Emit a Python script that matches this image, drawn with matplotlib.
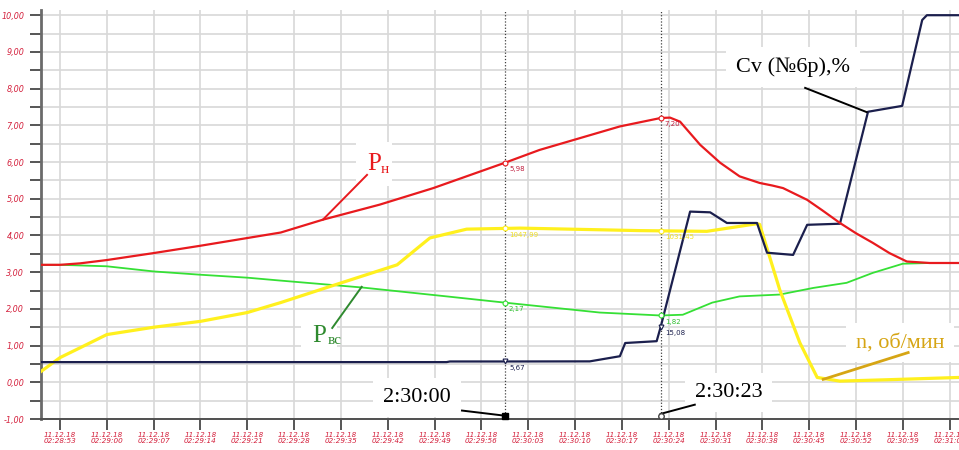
import numpy as np
import matplotlib
matplotlib.use("Agg")
from matplotlib import pyplot as plt
from matplotlib.ticker import MultipleLocator, FuncFormatter

# время, с от 02:28:53 (11.12.18)
t_pn = [-2.8, 0, 3, 7, 14, 21, 28, 33, 39.3, 47.8, 55.8, 66.5, 71.7, 77.7, 83.7, 89.8,
        91.2, 92.7, 95.7, 98.7, 101.6, 104.6, 106.5, 108.1, 111.7, 114.0, 116.6, 119.0,
        121.5, 124.0, 126.6, 130, 134.4]
pn = [3.20, 3.20, 3.24, 3.33, 3.52, 3.72, 3.93, 4.08, 4.43, 4.84, 5.29, 5.98, 6.33, 6.65, 6.97, 7.20,
      7.21, 7.10, 6.47, 5.98, 5.61, 5.43, 5.36, 5.29, 4.97, 4.68, 4.34, 4.06,
      3.80, 3.52, 3.29, 3.25, 3.25]

t_pvs = [-2.8, 0, 7, 14, 21, 28, 33, 45.3, 57.8, 66.5, 80.7, 89.8, 93.1, 97.5, 101.6, 107.6,
         112.6, 117.6, 121.5, 126, 130, 134.4]
pvs = [3.20, 3.20, 3.16, 3.02, 2.93, 2.85, 2.77, 2.58, 2.34, 2.17, 1.90, 1.82, 1.84, 2.17, 2.34, 2.39,
       2.57, 2.71, 2.98, 3.23, 3.25, 3.25]

# обороты, об/мин
t_n = [-2.8, 0, 3, 7, 14, 21, 28, 33, 40.4, 50.4, 52.8, 55.3, 60.8, 68.8, 86.7, 96.7,
       104.2, 104.6, 107.6, 110.6, 113.2, 116.6, 124.1, 134.4]
n_rpm = [75, 168, 235, 325, 375, 415, 475, 543, 653, 800, 890, 983, 1043, 1050, 1033, 1028,
         1080, 1075, 630, 270, 33, 8, 18, 33]

# Cv, %
t_cv = [-2.8, 57.8, 58.3, 66.5, 79.2, 83.7, 84.5, 89.2, 89.8, 94.2, 97.2, 99.7, 104.2, 105.7,
        109.6, 111.7, 116.6, 120.8, 125.9, 128.9, 129.6, 134.4]
cv = [5.5, 5.5, 5.67, 5.67, 5.7, 7.1, 10.7, 11.2, 15.08, 46.5, 46.3, 43.4, 43.4, 35.3,
      34.7, 42.9, 43.2, 73.7, 75.3, 98.7, 100.0, 100.0]

cursors = [66.5, 89.8]
cursor_names = ["2:30:00", "2:30:23"]

n_scale = 250.0   # об/мин на деление
cv_scale = 10.0   # % на деление

t0 = 2 * 3600 + 28 * 60 + 53
xt = list(range(0, 134, 7))

RED = "#e81a1e"
GREEN = "#35e035"
YELLOW = "#fff01e"
NAVY = "#1b1f4d"
LBL = "#d4203c"
GOLD = "#d6a514"
DKGREEN = "#2f8a2f"


def hms(s):
    s = int(round(s))
    return "%02d:%02d:%02d" % (s // 3600, (s // 60) % 60, s % 60)


fig = plt.figure(figsize=(9.59, 4.5), dpi=100)
ax = fig.add_axes([41 / 959, 31 / 450, 918 / 959, 409.3 / 450])
ax.set_xlim(-2.84, 134.4)
ax.set_ylim(-1, 10.15)

ax.set_yticks(range(-1, 11))
ax.yaxis.set_minor_locator(MultipleLocator(0.5))
ax.yaxis.set_major_formatter(FuncFormatter(lambda v, p: ("%.2f" % v).replace(".", ",")))
ax.set_xticks(xt)
ax.set_xticklabels(["11.12.18\n" + hms(t0 + t) for t in xt], linespacing=1.0)

ax.tick_params(axis="y", which="both", direction="out", length=8, width=1.4, color="#555555",
               labelsize=5.8, labelcolor=LBL, pad=4)
ax.tick_params(axis="x", direction="out", length=8, width=1.4, color="#555555",
               labelsize=5.2, labelcolor=LBL, pad=1.5)
for lab in ax.get_xticklabels() + ax.get_yticklabels():
    lab.set_fontstyle("italic")

ax.grid(axis="y", which="both", color="#d8d8d8", lw=1.2, zorder=0)
ax.grid(axis="x", which="major", color="#d8d8d8", lw=1.2, zorder=0)
ax.set_axisbelow(True)
for s in ["top", "right"]:
    ax.spines[s].set_visible(False)
ax.spines["left"].set_color("#6a6a6a")
ax.spines["left"].set_linewidth(2)
ax.spines["bottom"].set_color("#505050")
ax.spines["bottom"].set_linewidth(1.4)

# кривые
n_plot = np.array(n_rpm) / n_scale
cv_plot = np.array(cv) / cv_scale
ax.plot(t_pvs, pvs, color=GREEN, lw=1.3, zorder=3)
ax.plot(t_n, n_plot, color=YELLOW, lw=2.3, zorder=3)
ax.plot(t_cv, cv_plot, color=NAVY, lw=1.6, zorder=3)
ax.plot(t_pn, pn, color=RED, lw=1.6, zorder=3)

# курсоры и значения в точках
series = [
    (t_pn, pn, 1.0, RED, "#c02040", "o"),
    (t_pvs, pvs, 1.0, GREEN, "#30c030", "o"),
    (t_n, n_rpm, n_scale, YELLOW, "#f0e020", "o"),
    (t_cv, cv, cv_scale, NAVY, NAVY, "v"),
]
for tc in cursors:
    ax.axvline(tc, color="#404040", ls=(0, (1, 1.5)), lw=0.9, zorder=2)
    for tt, vv, sc, col, tcol, mk in series:
        val = np.interp(tc, tt, vv)
        ax.plot(tc, val / sc, marker=mk, ms=3.5, mfc="white", mec=col, mew=0.8, zorder=4)
        ax.annotate(("%.2f" % val).replace(".", ","), (tc, val / sc), xytext=(3, -6),
                    textcoords="offset points", fontsize=5, color=tcol, zorder=5)

serif = "Liberation Serif"
box = dict(boxstyle="square,pad=0.45", facecolor="white", edgecolor="none")

# подписи кривых
ax.text(45.9, 5.78, "P", fontsize=18, family=serif, color=RED, bbox=box, zorder=2.5)
ax.text(47.9, 5.70, "н", fontsize=11, family=serif, color=RED, zorder=2.6)
ax.plot([45.9, 39.3], [5.65, 4.43], color=RED, lw=1.4, zorder=3)

ax.text(37.7, 1.10, "P", fontsize=18, family=serif, color=DKGREEN, bbox=box, zorder=2.5)
ax.text(40.0, 1.05, "вс", fontsize=11, family=serif, color=DKGREEN, zorder=2.6)
ax.plot([40.7, 45.1], [1.48, 2.60], color=DKGREEN, lw=1.4, zorder=3)

ax.text(101.0, 8.45, "Cv (№6р),%", fontsize=16, family=serif, color="black", bbox=box, zorder=2.5)
ax.plot([111.4, 120.6], [8.02, 7.36], color="black", lw=1.4, zorder=3)

ax.text(119.0, 0.95, "n, об/мин", fontsize=16, family=serif, color=GOLD, bbox=box, zorder=2.5)
ax.plot([126.8, 114.1], [0.81, 0.08], color=GOLD, lw=2, zorder=3)

# метки курсоров
ax.text(48.3, -0.55, cursor_names[0], fontsize=16, family=serif, color="black", bbox=box, zorder=2.5)
ax.plot([60.1, cursors[0]], [-0.77, -0.91], color="black", lw=1.4, zorder=3)
ax.plot(cursors[0], -0.91, marker="s", ms=4, color="black", zorder=4, clip_on=False)

ax.text(94.9, -0.39, cursor_names[1], fontsize=16, family=serif, color="black", bbox=box, zorder=2.5)
ax.plot([94.9, cursors[1]], [-0.61, -0.86], color="black", lw=1.4, zorder=3)
ax.plot(cursors[1], -0.91, marker="o", ms=4, mfc="white", mec="#444444", zorder=4, clip_on=False)

fig.savefig("out.png", dpi=100)
